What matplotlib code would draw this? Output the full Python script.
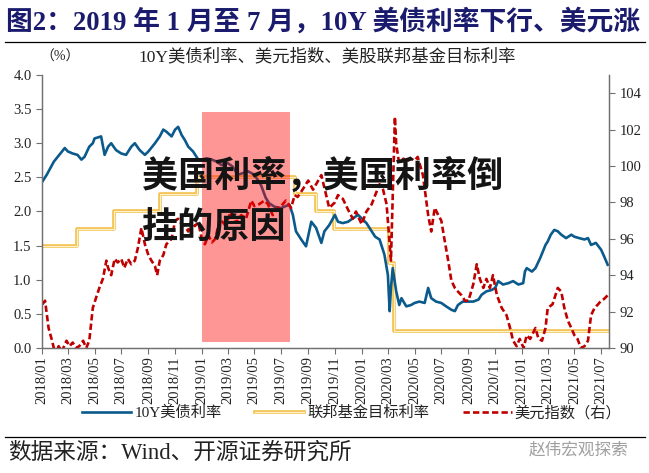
import matplotlib
matplotlib.use("Agg")
import matplotlib.pyplot as plt
import matplotlib.dates as mdates
from matplotlib.lines import Line2D
import pandas as pd

plt.rcParams['font.family'] = ['Liberation Serif', 'Noto Sans CJK SC', 'DejaVu Sans']

# 10Y treasury yield (%)
dates_10y = ["2018-01-02", "2018-01-12", "2018-01-28", "2018-02-12", "2018-02-22", "2018-03-01",
             "2018-03-12", "2018-03-23", "2018-04-01", "2018-04-08", "2018-04-19", "2018-04-27",
             "2018-05-01", "2018-05-16", "2018-05-24", "2018-06-01", "2018-06-08", "2018-06-19",
             "2018-07-01", "2018-07-12", "2018-07-24", "2018-08-01", "2018-08-12", "2018-08-24",
             "2018-09-01", "2018-09-16", "2018-09-27", "2018-10-05", "2018-10-12", "2018-10-24",
             "2018-11-01", "2018-11-08", "2018-11-16", "2018-11-23", "2018-12-01", "2018-12-12",
             "2018-12-24", "2019-01-01", "2019-01-12", "2019-01-24", "2019-02-04", "2019-02-15",
             "2019-03-01", "2019-03-12", "2019-03-24", "2019-04-04", "2019-04-16", "2019-05-01",
             "2019-05-16", "2019-05-27", "2019-06-04", "2019-06-16", "2019-07-01", "2019-07-08",
             "2019-07-20", "2019-07-28", "2019-08-04", "2019-08-16", "2019-08-27", "2019-09-08",
             "2019-09-19", "2019-10-01", "2019-10-08", "2019-10-19", "2019-11-01", "2019-11-08",
             "2019-11-19", "2019-12-01", "2019-12-12", "2019-12-24", "2020-01-01", "2020-01-12",
             "2020-01-24", "2020-02-01", "2020-02-11", "2020-02-22", "2020-03-01", "2020-03-05",
             "2020-03-08", "2020-03-12", "2020-03-20", "2020-03-27", "2020-04-01", "2020-04-12",
             "2020-04-23", "2020-05-01", "2020-05-12", "2020-05-24", "2020-06-01", "2020-06-08",
             "2020-06-19", "2020-07-01", "2020-07-12", "2020-07-24", "2020-08-01", "2020-08-08",
             "2020-08-19", "2020-09-01", "2020-09-12", "2020-09-24", "2020-10-01", "2020-10-12",
             "2020-10-24", "2020-11-01", "2020-11-08", "2020-11-19", "2020-12-01", "2020-12-12",
             "2020-12-24", "2021-01-04", "2021-01-08", "2021-01-12", "2021-01-24", "2021-02-01",
             "2021-02-12", "2021-02-24", "2021-03-01", "2021-03-08", "2021-03-16", "2021-03-24",
             "2021-04-01", "2021-04-12", "2021-04-24", "2021-05-01", "2021-05-12", "2021-05-24",
             "2021-06-01", "2021-06-08", "2021-06-19", "2021-07-01", "2021-07-08", "2021-07-16"]
y10 = [2.44, 2.54, 2.73, 2.85, 2.93, 2.88,
       2.85, 2.83, 2.76, 2.80, 2.95, 3.00,
       3.07, 3.10, 2.83, 2.95, 3.00, 2.90,
       2.85, 2.83, 2.95, 3.00, 2.90, 2.83,
       2.88, 3.00, 3.10, 3.20, 3.17, 3.10,
       3.20, 3.24, 3.12, 3.05, 2.95, 2.88,
       2.76, 2.76, 2.78, 2.76, 2.73, 2.68,
       2.71, 2.66, 2.54, 2.56, 2.59, 2.54,
       2.39, 2.20, 2.12, 2.07, 2.05, 2.07,
       2.10, 1.95, 1.71, 1.59, 1.49, 1.85,
       1.76, 1.54, 1.71, 1.80, 1.95, 1.85,
       1.83, 1.85, 1.90, 1.95, 1.90, 1.83,
       1.71, 1.63, 1.59, 1.37, 1.07, 0.54,
       0.88, 1.17, 0.83, 0.63, 0.73, 0.61,
       0.63, 0.66, 0.68, 0.66, 0.88, 0.73,
       0.68, 0.66, 0.61, 0.56, 0.54, 0.63,
       0.68, 0.68, 0.68, 0.71, 0.78, 0.83,
       0.85, 0.88, 0.98, 0.93, 0.95, 0.98,
       0.93, 0.95, 1.12, 1.17, 1.12, 1.17,
       1.32, 1.51, 1.56, 1.66, 1.73, 1.71,
       1.66, 1.61, 1.66, 1.63, 1.61, 1.59,
       1.61, 1.51, 1.54, 1.44, 1.34, 1.22]

# Fed funds target rate, upper bound (%)
fed_dates = ["2018-01-01", "2018-03-22", "2018-06-14", "2018-09-27", "2018-12-20", "2019-08-01",
             "2019-09-19", "2019-10-31", "2020-03-04", "2020-03-16", "2021-07-18"]
fed_rate = [1.50, 1.75, 2.00, 2.25, 2.50, 2.25, 2.00, 1.75, 1.25, 0.25, 0.25]

# Dollar index (right axis)
dates_dxy = ["2018-01-02", "2018-01-08", "2018-01-16", "2018-01-24", "2018-02-01", "2018-02-08",
             "2018-02-15", "2018-02-26", "2018-03-05", "2018-03-12", "2018-03-20", "2018-03-27",
             "2018-04-05", "2018-04-12", "2018-04-19", "2018-04-27", "2018-05-05", "2018-05-12",
             "2018-05-20", "2018-05-28", "2018-06-01", "2018-06-08", "2018-06-16", "2018-06-23",
             "2018-07-01", "2018-07-08", "2018-07-16", "2018-07-24", "2018-08-01", "2018-08-08",
             "2018-08-16", "2018-08-24", "2018-09-01", "2018-09-08", "2018-09-16", "2018-09-21",
             "2018-09-27", "2018-10-05", "2018-10-12", "2018-10-24", "2018-11-01", "2018-11-08",
             "2018-11-16", "2018-11-23", "2018-12-01", "2018-12-08", "2018-12-16", "2018-12-24",
             "2019-01-01", "2019-01-08", "2019-01-16", "2019-01-24", "2019-02-01", "2019-02-11",
             "2019-02-22", "2019-03-01", "2019-03-08", "2019-03-16", "2019-03-24", "2019-04-01",
             "2019-04-12", "2019-04-24", "2019-05-01", "2019-05-12", "2019-05-24", "2019-06-01",
             "2019-06-12", "2019-06-24", "2019-07-01", "2019-07-12", "2019-07-24", "2019-08-01",
             "2019-08-08", "2019-08-19", "2019-09-01", "2019-09-12", "2019-09-24", "2019-10-01",
             "2019-10-12", "2019-10-19", "2019-11-01", "2019-11-08", "2019-11-19", "2019-12-01",
             "2019-12-12", "2019-12-19", "2020-01-01", "2020-01-12", "2020-01-24", "2020-02-01",
             "2020-02-11", "2020-02-19", "2020-02-27", "2020-03-08", "2020-03-17", "2020-03-20",
             "2020-03-27", "2020-04-05", "2020-04-16", "2020-04-23", "2020-05-01", "2020-05-08",
             "2020-05-20", "2020-06-01", "2020-06-08", "2020-06-16", "2020-06-24", "2020-07-01",
             "2020-07-08", "2020-07-16", "2020-07-24", "2020-08-01", "2020-08-08", "2020-08-16",
             "2020-08-24", "2020-09-01", "2020-09-12", "2020-09-20", "2020-09-27", "2020-10-05",
             "2020-10-12", "2020-10-20", "2020-10-27", "2020-11-05", "2020-11-16", "2020-11-27",
             "2020-12-05", "2020-12-12", "2020-12-20", "2020-12-27", "2021-01-05", "2021-01-12",
             "2021-01-20", "2021-02-01", "2021-02-08", "2021-02-16", "2021-02-24", "2021-03-01",
             "2021-03-12", "2021-03-24", "2021-04-01", "2021-04-08", "2021-04-16", "2021-04-24",
             "2021-05-01", "2021-05-08", "2021-05-16", "2021-05-24", "2021-06-01", "2021-06-08",
             "2021-06-16", "2021-06-24", "2021-07-01", "2021-07-08", "2021-07-16"]
dxy = [92.4, 92.6, 91.1, 90.4, 89.6, 90.1,
       89.8, 90.4, 90.1, 90.3, 90.0, 90.1,
       90.4, 90.0, 90.4, 92.2, 92.8, 93.3,
       93.8, 94.8, 94.4, 94.0, 94.9, 94.7,
       94.9, 94.4, 94.9, 94.6, 94.8, 95.5,
       96.6, 95.7, 95.1, 94.8, 94.5, 94.0,
       94.8, 95.1, 95.7, 96.0, 97.0, 97.1,
       96.8, 96.7, 96.4, 97.0, 96.7, 96.9,
       96.0, 95.7, 96.2, 95.8, 96.0, 97.1,
       96.8, 97.0, 97.5, 96.9, 97.0, 97.3,
       97.1, 98.1, 97.8, 97.9, 98.1, 97.9,
       97.3, 97.7, 97.8, 98.1, 97.7, 98.4,
       98.3, 98.7, 99.2, 98.7, 99.2, 99.5,
       98.4, 97.7, 98.0, 98.4, 98.2, 97.6,
       97.1, 97.5, 96.8, 97.5, 97.9, 98.4,
       99.0, 98.7, 97.9, 94.8, 102.7, 101.2,
       100.1, 100.4, 100.3, 100.4, 100.3, 100.5,
       99.5, 97.3, 96.4, 97.7, 97.3, 97.0,
       96.0, 94.9, 93.7, 93.3, 93.1, 92.9,
       92.6, 92.6, 93.5, 94.6, 93.8, 93.3,
       93.8, 93.3, 94.0, 92.9, 92.2, 91.8,
       91.1, 90.4, 90.1, 90.5, 90.0, 90.7,
       90.5, 91.1, 90.5, 90.4, 91.1, 92.2,
       92.4, 93.3, 93.1, 92.2, 91.5, 91.1,
       90.7, 90.5, 90.0, 90.1, 90.4, 91.8,
       92.2, 92.4, 92.6, 92.7, 92.9]

date_ticks = pd.date_range("2018-01-01", "2021-07-01", freq="2MS")

W, H = 649, 473
fig = plt.figure(figsize=(6.49, 4.73), dpi=100)

# title block
fig.text(6 / W, 1 - 22 / H, "图2：2019 年 1 月至 7 月，10Y 美债利率下行、美元涨",
         fontsize=19.3, fontweight='bold', color='#1b1b6e', va='center', ha='left')
fig.add_artist(Line2D([5 / W, 645 / W], [1 - 42 / H, 1 - 42 / H], color='black', lw=0.9))
fig.text(60 / W, 1 - 57 / H, "（%）", fontsize=10, va='center', ha='center', color='#222222')
fig.text(327 / W, 1 - 57 / H, "10Y美债利率、美元指数、美股联邦基金目标利率",
         fontsize=12.5, va='center', ha='center', color='#222222')

ax = fig.add_axes([42 / W, 1 - 348 / H, (609 - 42) / W, (348 - 75) / H])
ax2 = ax.twinx()

d10 = pd.to_datetime(dates_10y)
dd = pd.to_datetime(dates_dxy)
df = pd.to_datetime(fed_dates)

l1, = ax.plot(d10, y10, color='#0b5a8c', lw=1.9, zorder=3)
f_out, = ax.plot(df, fed_rate, drawstyle='steps-post', color='#f3c04a', lw=2.6, zorder=2)
f_in, = ax.plot(df, fed_rate, drawstyle='steps-post', color='#fdf1cc', lw=0.9, zorder=2.1)
l3, = ax2.plot(dd, dxy, color='#c00000', lw=1.9, dashes=(2.4, 1.2))

ax2.axvspan(pd.Timestamp("2019-01-02"), pd.Timestamp("2019-07-21"), ymin=0.021, ymax=0.863,
            facecolor='#ff0000', alpha=0.41, lw=0, zorder=5)

ax.set_xlim(pd.Timestamp("2018-01-01"), pd.Timestamp("2021-07-19"))
ax.set_ylim(0, 4)
ax2.set_ylim(90, 105)
ax.set_yticks([0, 0.5, 1.0, 1.5, 2.0, 2.5, 3.0, 3.5, 4.0])
ax.set_yticklabels(["%.1f" % v for v in ax.get_yticks()])
ax2.set_yticks(range(90, 106, 2))
ax.set_xticks(date_ticks)
ax.xaxis.set_major_formatter(mdates.DateFormatter('%Y/%m'))
plt.setp(ax.get_xticklabels(), rotation=90)

for a in (ax, ax2):
    a.spines['top'].set_visible(False)
    for s in ('left', 'right', 'bottom'):
        a.spines[s].set_color('#707070')
        a.spines[s].set_linewidth(0.9)
    a.tick_params(direction='out', length=4, width=0.8, color='#707070',
                  labelsize=10.5, labelcolor='#222222')
ax.tick_params(axis='x', labelsize=10.5, pad=2)

# big overlay caption
fig.text(142 / W, 1 - 158 / H, "美国利率，美国利率倒", fontsize=26, fontweight='heavy',
         family='Noto Sans CJK SC', color='#141414', va='top', ha='left', zorder=10)
fig.text(142 / W, 1 - 210 / H, "挂的原因", fontsize=26, fontweight='heavy',
         family='Noto Sans CJK SC', color='#141414', va='top', ha='left', zorder=10)

fig.legend([l1, (f_out, f_in), l3], ["10Y美债利率", "联邦基金目标利率", "美元指数（右）"],
           loc='center', bbox_to_anchor=(352 / W, 1 - 413 / H), ncol=3, frameon=False,
           fontsize=11, handlelength=3.2, columnspacing=2.2, handletextpad=0.2,
           labelcolor='#222222')

fig.add_artist(Line2D([5 / W, 645 / W], [1 - 437 / H, 1 - 437 / H], color='black', lw=0.9))
fig.text(8 / W, 1 - 453 / H, "数据来源：Wind、开源证券研究所", fontsize=16.3,
         va='center', ha='left', color='#222222')
fig.text(628 / W, 1 - 450 / H, "赵伟宏观探索", fontsize=12, va='center', ha='right',
         color='#a0a0a0', family='Noto Sans CJK SC')

fig.savefig("out.png", dpi=100)
